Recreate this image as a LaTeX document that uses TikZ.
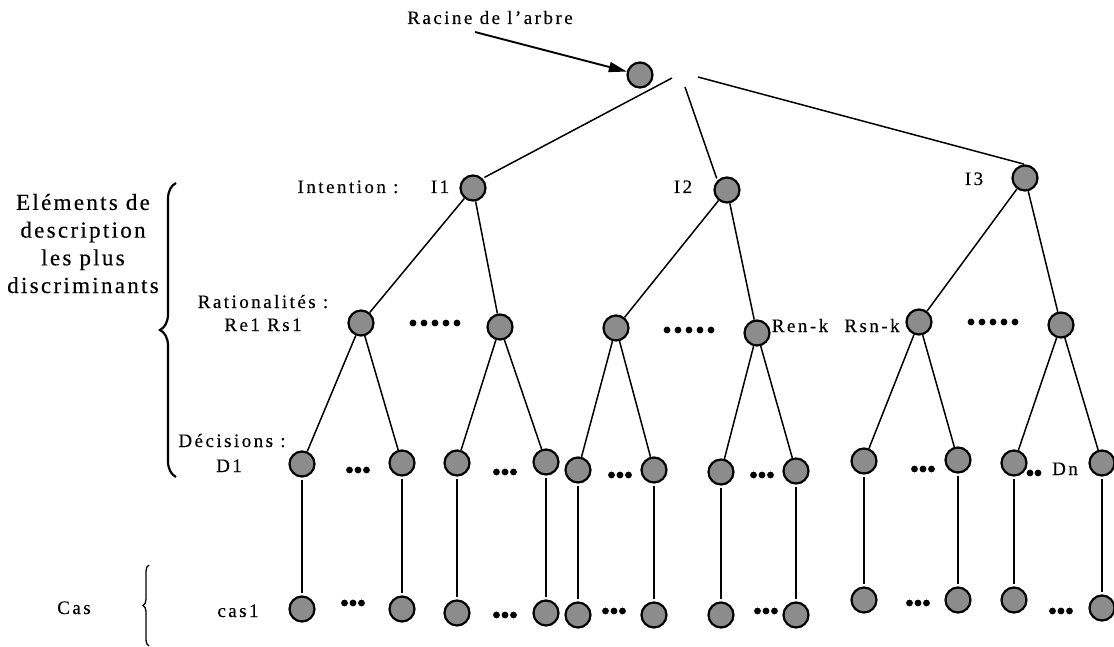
\documentclass[tikz,border=0pt]{standalone}
\usepackage{fontspec}
\setmainfont{Liberation Serif}
\newfontfamily\lsfont[LetterSpace=13,FakeBold=0.3]{Liberation Serif}
\newfontfamily\lsbig[LetterSpace=10,FakeBold=0.3]{Liberation Serif}
\usetikzlibrary{arrows.meta,decorations.pathreplacing}
\begin{document}
\begin{tikzpicture}[x=1pt,y=-1pt,
  nd/.style={circle,draw,line width=2.2pt,fill=black!45,minimum size=25pt,inner sep=0pt},
  edge/.style={line width=1.5pt},
  vline/.style={line width=1.5pt,shorten <=2pt,shorten >=2pt},
  lbl/.style={anchor=base,inner sep=0pt,font=\lsfont\fontsize{19}{23}\selectfont},
  biglbl/.style={anchor=base,inner sep=0pt,align=center,font=\lsbig\fontsize{23}{27.7}\selectfont},
  bracestyle/.style={decorate,line width=2.2pt}]
\useasboundingbox (0,0) rectangle (1114,647);

% root and arrow
\node[nd] (root) at (640,75) {};
\coordinate (a0) at (475,32);
\draw[line width=1.9pt,-{Triangle[length=18pt,width=10pt]}] (a0) -- (root);
\node[lbl] (racine) at (490,24) {Racine de l’arbre};

% intentions
\node[nd] (I1) at (473,188) {};
\node[nd] (I2) at (727,190) {};
\node[nd] (I3) at (1025,178) {};
\coordinate (b1) at (672,78);
\coordinate (b2) at (685,87);
\coordinate (b3) at (698,77);
\draw[edge,shorten >=2pt] (b1) -- (I1.north east);
\draw[edge,shorten >=2pt] (b2) -- (I2.north west);
\draw[edge,shorten >=1pt] (b3) -- (I3.north);

% rationalities
\node[nd] (R1) at (361,323) {};
\node[nd] (R2) at (500,327) {};
\node[nd] (R3) at (616,328) {};
\node[nd] (R4) at (757,333) {};
\node[nd] (R5) at (919,322) {};
\node[nd] (R6) at (1061,325) {};
\draw[edge] (I1) -- (R1);
\draw[edge] (I1) -- (R2);
\draw[edge] (I2) -- (R3);
\draw[edge] (I2) -- (R4);
\draw[edge] (I3) -- (R5);
\draw[edge] (I3) -- (R6);

% decisions
\node[nd] (D1) at (302,464) {};
\node[nd] (D2) at (402,463) {};
\node[nd] (D3) at (457,463) {};
\node[nd] (D4) at (546,462) {};
\node[nd] (D5) at (578,470) {};
\node[nd] (D6) at (654,470) {};
\node[nd] (D7) at (721,472) {};
\node[nd] (D8) at (796,471) {};
\node[nd] (D9) at (864,461) {};
\node[nd] (D10) at (958,460) {};
\node[nd] (D11) at (1014,463) {};
\node[nd] (D12) at (1102,463) {};
\draw[edge] (R1) -- (D1);  \draw[edge] (R1) -- (D2);
\draw[edge] (R2) -- (D3);  \draw[edge] (R2) -- (D4);
\draw[edge] (R3) -- (D5);  \draw[edge] (R3) -- (D6);
\draw[edge] (R4) -- (D7);  \draw[edge] (R4) -- (D8);
\draw[edge] (R5) -- (D9);  \draw[edge] (R5) -- (D10);
\draw[edge] (R6) -- (D11); \draw[edge] (R6) -- (D12);

% cases
\node[nd] (C1) at (302,609) {};
\node[nd] (C2) at (402,609) {};
\node[nd] (C3) at (457,613) {};
\node[nd] (C4) at (546,613) {};
\node[nd] (C5) at (578,615) {};
\node[nd] (C6) at (654,615) {};
\node[nd] (C7) at (721,615) {};
\node[nd] (C8) at (796,615) {};
\node[nd] (C9) at (864,600) {};
\node[nd] (C10) at (958,600) {};
\node[nd] (C11) at (1014,600) {};
\node[nd] (C12) at (1102,608) {};
\foreach \i in {1,...,12} { \draw[vline] (D\i) -- (C\i); }

% dot rows
\foreach \x/\y in {435/323, 689/330, 993/322}
  { \foreach \k in {-2,...,2} \fill ({\x+\k*11},\y) circle (3.4); }
\foreach \x/\y in {358/470, 505/472, 620/475, 762/475, 923/469,
                   353/603, 505/615, 614/611, 766/611, 918/603, 1061/611}
  { \foreach \k in {-1,0,1} \fill ({\x+\k*8.5},\y) circle (3.4); }
\foreach \k in {-0.5,0.5} \fill ({1034+\k*8},473) circle (3.4);

% labels
\node[lbl] (lint) at (348,193) {Intention :};
\node[lbl] (li1) at (440,193) {I1};
\node[lbl] (li2) at (683,193) {I2};
\node[lbl] (li3) at (974,185) {I3};
\node[lbl] (lrat) at (263,308) {Rationalités :};
\node[lbl] (lre) at (263,331) {Re1 Rs1};
\node[lbl] (lren) at (800,332) {Ren-k};
\node[lbl] (lrsn) at (872,332) {Rsn-k};
\node[lbl] (ldec) at (232,447) {Décisions :};
\node[lbl] (ld1) at (229,472) {D1};
\node[lbl] (ldn) at (1065,475) {Dn};
\node[lbl] (lcas1) at (238,617) {cas1};
\node[lbl] (lcas) at (74,614) {Cas};
\node[biglbl] (lelem) at (83,293) {Eléments de\\description\\les plus\\discriminants};

% braces
\draw[bracestyle,decoration={brace,amplitude=16pt}] (176,477) -- (176,183);
\draw[decorate,line width=1.3pt,decoration={brace,amplitude=6pt}] (149,646) -- (149,565);
\end{tikzpicture}
\end{document}
